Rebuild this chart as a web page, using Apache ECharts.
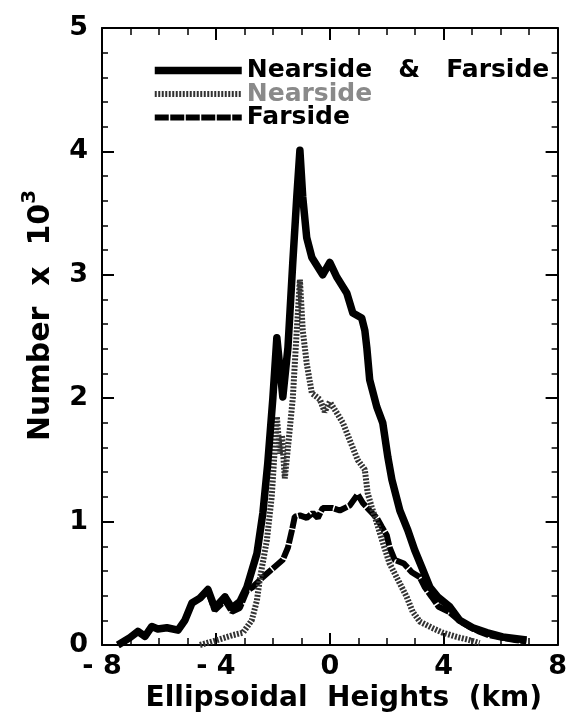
<!DOCTYPE html>
<html>
<head>
<meta charset="utf-8">
<style>
  html, body { margin: 0; padding: 0; background: #fff; }
  #chart { width: 570px; height: 721px; }
</style>
<script src="https://cdn.jsdelivr.net/npm/echarts@6/dist/echarts.min.js"></script>
</head>
<body>
<div id="chart"></div>
<script>
// Histogram of ellipsoidal heights (km), counts in thousands
const totalX = [-7.44,-7.02,-6.74,-6.49,-6.25,-6.04,-5.72,-5.33,-5.09,-4.84,-4.56,-4.28,-4.04,-3.68,-3.44,-3.16,-2.91,-2.56,-2.35,-2.18,-2.0,-1.86,-1.65,-1.47,-1.3,-1.16,-1.05,-0.95,-0.81,-0.63,-0.25,0.0,0.25,0.6,0.81,1.12,1.23,1.3,1.4,1.65,1.86,2.04,2.18,2.46,2.74,2.98,3.23,3.51,3.79,4.21,4.56,5.02,5.51,6.07,6.91];
const totalY = [0,0.06,0.11,0.07,0.15,0.13,0.14,0.12,0.2,0.34,0.38,0.45,0.30,0.39,0.30,0.35,0.47,0.74,1.07,1.47,2.0,2.49,2.01,2.41,3.1,3.63,4.01,3.63,3.3,3.14,3.0,3.1,2.98,2.85,2.69,2.65,2.55,2.41,2.15,1.93,1.8,1.52,1.34,1.09,0.93,0.77,0.63,0.47,0.39,0.31,0.2,0.14,0.1,0.065,0.04];

const nearX = [-4.56,-3.96,-3.4,-3.05,-2.74,-2.56,-2.46,-2.21,-2.04,-1.93,-1.86,-1.75,-1.68,-1.58,-1.47,-1.3,-1.16,-1.05,-0.95,-0.81,-0.63,-0.35,-0.18,0.0,0.25,0.46,0.7,0.98,1.23,1.33,1.47,1.65,1.86,2.1,2.39,2.7,2.91,3.16,3.58,3.96,4.46,4.91,5.26];
const nearY = [0,0.04,0.08,0.1,0.2,0.36,0.53,0.85,1.2,1.6,1.85,1.55,1.7,1.35,1.6,2.0,2.55,2.96,2.55,2.28,2.04,1.99,1.89,1.97,1.88,1.8,1.66,1.5,1.42,1.23,1.12,0.99,0.83,0.66,0.53,0.39,0.27,0.19,0.14,0.1,0.065,0.04,0.015];

const farX = [-7.44,-7.02,-6.74,-6.49,-6.25,-6.04,-5.72,-5.33,-5.09,-4.84,-4.56,-4.28,-4.04,-3.68,-3.44,-3.16,-2.91,-2.7,-2.35,-2.0,-1.65,-1.47,-1.33,-1.23,-1.05,-0.81,-0.6,-0.42,-0.25,0.1,0.35,0.7,0.98,1.16,1.4,1.65,1.82,2.0,2.1,2.28,2.6,2.88,3.16,3.33,3.58,3.82,4.18,4.53,4.88,5.23,5.58,6.0,6.5,6.9];
const farY = [0,0.06,0.11,0.07,0.15,0.13,0.14,0.12,0.2,0.34,0.38,0.44,0.28,0.36,0.27,0.3,0.44,0.47,0.55,0.62,0.69,0.79,0.93,1.04,1.05,1.03,1.07,1.03,1.11,1.11,1.09,1.13,1.22,1.15,1.09,1.03,0.96,0.89,0.79,0.69,0.66,0.59,0.55,0.47,0.39,0.31,0.27,0.2,0.15,0.11,0.08,0.06,0.04,0.03];

const seriesNames = ['Nearside & Farside', 'Nearside', 'Farside'];
const xTicks = { min: -8, max: 8, step: 4 };
const yTicks = { min: 0, max: 5, step: 1 };

const pairs = (xs, ys) => xs.map((x, i) => [x, ys[i]]);

const FONT = 'DejaVu Sans';
const axisLineStyle = { show: true, onZero: false, lineStyle: { color: '#000', width: 2 } };

// line styles shared by the curves and their legend swatches
const styleTotal = { color: '#000', width: 7.5, type: 'solid', join: 'round' };
const styleNear = { color: '#333', width: 6, type: [2, 1.5] };
const styleFar = { color: '#000', width: 6, type: [14, 1.5] };

function xAxisDef(pos, showLabels) {
  return {
    type: 'value', position: pos,
    min: xTicks.min, max: xTicks.max, interval: xTicks.step,
    axisLine: axisLineStyle,
    axisTick: { show: true, inside: true, length: 12, lineStyle: { color: '#000', width: 2 } },
    minorTick: { show: true, splitNumber: 4, length: 7, lineStyle: { color: '#000', width: 1.5 } },
    splitLine: { show: false },
    axisLabel: {
      show: showLabels, margin: 8,
      color: '#000', fontFamily: FONT, fontWeight: 'bold', fontSize: 27,
      formatter: v => (v < 0 ? '- ' + Math.abs(v) : String(v))
    }
  };
}

function yAxisDef(pos, showLabels) {
  return {
    type: 'value', position: pos,
    min: yTicks.min, max: yTicks.max, interval: yTicks.step,
    axisLine: axisLineStyle,
    axisTick: { show: true, inside: true, length: 12, lineStyle: { color: '#000', width: 2 } },
    minorTick: { show: true, splitNumber: 5, length: 6, lineStyle: { color: '#000', width: 1.5 } },
    splitLine: { show: false },
    axisLabel: {
      show: showLabels, margin: 14,
      color: '#000', fontFamily: FONT, fontWeight: 'bold', fontSize: 27
    }
  };
}

const xBottom = xAxisDef('bottom', true);
xBottom.name = 'Ellipsoidal  Heights  (km)';
xBottom.nameLocation = 'middle';
xBottom.nameGap = 39;
xBottom.nameTextStyle = { color: '#000', fontFamily: FONT, fontWeight: 'bold', fontSize: 28, padding: [0, 0, 0, 28] };

const yLeft = yAxisDef('left', true);
yLeft.name = '{b|Number  x  10}{s|3}';
yLeft.nameLocation = 'middle';
yLeft.nameGap = 46;
yLeft.nameTextStyle = {
  padding: [0, 0, 0, 42],
  rich: {
    b: { color: '#000', fontFamily: FONT, fontWeight: 'bold', fontSize: 30, lineHeight: 36, verticalAlign: 'bottom' },
    s: { color: '#000', fontFamily: FONT, fontWeight: 'bold', fontSize: 20, lineHeight: 36, verticalAlign: 'top' }
  }
};

const chart = echarts.init(document.getElementById('chart'), null, { renderer: 'canvas' });
chart.setOption({
  backgroundColor: '#fff',
  animation: false,
  grid: { left: 102, right: 12, top: 28, bottom: 76 },
  xAxis: [xBottom, xAxisDef('top', false)],
  yAxis: [yLeft, yAxisDef('right', false)],
  legend: {
    orient: 'vertical', left: 146, top: 53,
    itemWidth: 87, itemHeight: 14, itemGap: -1.5,
    itemStyle: { opacity: 0 },
    textStyle: { color: '#000', fontFamily: FONT, fontWeight: 'bold', fontSize: 25, lineHeight: 23.5 },
    data: [
      { name: seriesNames[0], lineStyle: styleTotal },
      { name: seriesNames[1], lineStyle: styleNear, textStyle: { color: '#8a8a8a' } },
      { name: seriesNames[2], lineStyle: styleFar }
    ],
    formatter: n => (n === seriesNames[0] ? 'Nearside   &   Farside' : n)
  },
  series: [
    {
      name: seriesNames[2], type: 'line', z: 2, color: '#000',
      data: pairs(farX, farY), symbol: 'none', smooth: false,
      lineStyle: styleFar
    },
    {
      name: seriesNames[1], type: 'line', z: 3, color: '#333',
      data: pairs(nearX, nearY), symbol: 'none', smooth: false,
      lineStyle: styleNear
    },
    {
      name: seriesNames[0], type: 'line', z: 4, color: '#000',
      data: pairs(totalX, totalY), symbol: 'none', smooth: false,
      lineStyle: styleTotal
    }
  ]
});
</script>
</body>
</html>
